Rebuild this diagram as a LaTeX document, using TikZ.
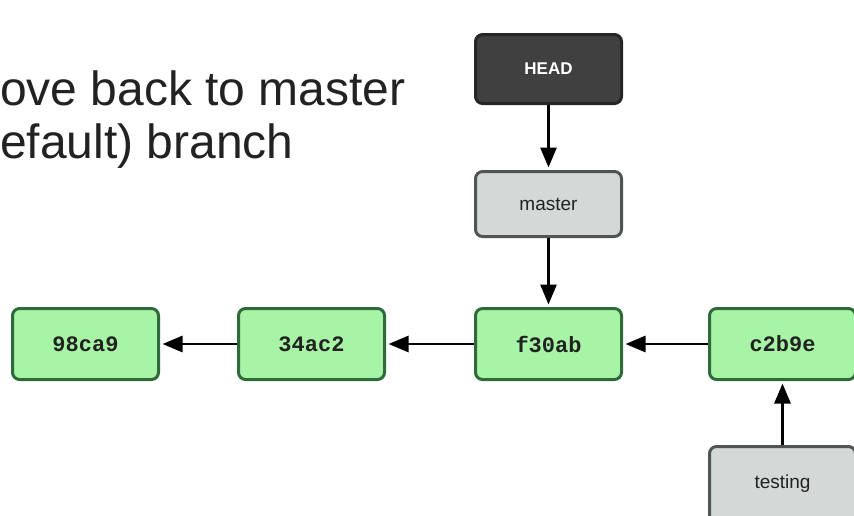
\documentclass[tikz,border=0pt]{standalone}
\usepackage{fontspec}
\setmainfont{Liberation Sans}
\setmonofont{Liberation Mono}
\usepackage{xcolor}
\definecolor{gitCommitFill}{HTML}{A8F4A6}
\definecolor{gitCommitBorder}{HTML}{2F6B3A}
\definecolor{gitBranchFill}{HTML}{D4D8D7}
\definecolor{gitBranchBorder}{HTML}{505452}
\definecolor{gitHeadFill}{HTML}{404040}
\definecolor{gitHeadBorder}{HTML}{262626}
\definecolor{gitText}{HTML}{222222}
\usetikzlibrary{arrows.meta,positioning}
\tikzset{
    commit/.style={
        draw=gitCommitBorder,
        fill=gitCommitFill,
        rectangle,
        rounded corners=2.5mm,
        align=center,
        minimum height=71pt,
        minimum width=146pt,
        line width=3pt,
        text=gitText,
        font=\fontsize{22}{24}\selectfont\ttfamily\bfseries
    },
    branch/.style={
        draw=gitBranchBorder,
        fill=gitBranchFill,
        rectangle,
        rounded corners=2.5mm,
        align=center,
        minimum height=65pt,
        minimum width=146pt,
        line width=3pt,
        text=gitText,
        font=\fontsize{19}{22}\selectfont
    },
    headref/.style={
        branch,
        draw=gitHeadBorder,
        fill=gitHeadFill,
        minimum height=69pt,
        text=white,
        font=\fontsize{17}{20}\selectfont\bfseries
    },
    pointer/.style={
        -{Triangle[length=20pt,width=16pt]},
        line width=2.8pt,
        color=black,
        shorten >=2.5pt
    },
    caption/.style={
        anchor=base west,
        inner sep=0pt,
        text=gitText,
        font=\fontsize{48}{53}\selectfont
    }
}
\begin{document}
\begin{tikzpicture}[x=1pt, y=1pt]
    \useasboundingbox (0,0) rectangle (854,-515);

    % Caption (cut at the left edge)
    \node[caption] (line1) at (0,-105) {ove back to master};
    \node[caption] (line2) at (0,-158) {efault) branch};

    % Commits
    \node[commit] (c98ca9) at (85.5,-344) {98ca9};
    \node[commit, right=77pt of c98ca9] (c34ac2) {34ac2};
    \node[commit, right=88pt of c34ac2] (cf30ab) {f30ab};
    \node[commit, right=85pt of cf30ab] (cc2b9e) {c2b9e};

    % Branches and HEAD
    \node[branch, above=69pt of cf30ab] (master) {master};
    \node[headref, above=65pt of master] (head) {HEAD};
    \node[branch, below=64pt of cc2b9e, minimum height=78pt, text depth=8pt] (testing) {testing};

    % Arrows
    \draw[pointer] (head) -- (master);
    \draw[pointer] (master) -- (cf30ab);
    \draw[pointer] (c34ac2) -- (c98ca9);
    \draw[pointer] (cf30ab) -- (c34ac2);
    \draw[pointer] (cc2b9e) -- (cf30ab);
    \draw[pointer] (testing) -- (cc2b9e);
\end{tikzpicture}
\end{document}
